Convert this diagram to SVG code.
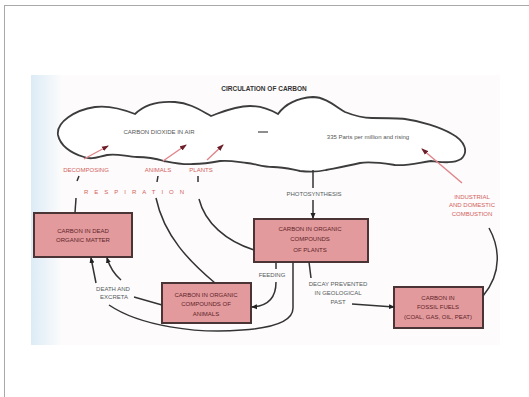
<svg xmlns="http://www.w3.org/2000/svg" width="529" height="397" viewBox="0 0 529 397">
<defs>
<linearGradient id="strip" x1="0" y1="0" x2="1" y2="0">
<stop offset="0" stop-color="#dcebf6"/>
<stop offset="1" stop-color="#fbfbfc"/>
</linearGradient>
<marker id="ah" markerWidth="6" markerHeight="6" refX="5" refY="3" orient="auto" markerUnits="userSpaceOnUse">
<path d="M0,0.5 L6,3 L0,5.5 Z" fill="#222"/>
</marker>
<marker id="ahr" markerWidth="7" markerHeight="6" refX="6" refY="3" orient="auto" markerUnits="userSpaceOnUse">
<path d="M0,0.5 L7,3 L0,5.5 Z" fill="#6a1f2a"/>
</marker>
</defs>
<style>
text{font-family:"Liberation Sans",Arial,sans-serif;}
.box{fill:#e39a9d;stroke:#4a3436;stroke-width:2;}
.bt{font-size:6px;fill:#5e2428;text-anchor:middle;}
.lr{font-size:6px;fill:#d2625c;text-anchor:middle;}
.lg{font-size:6px;fill:#555b5e;text-anchor:middle;}
.ln{fill:none;stroke:#333;stroke-width:1.5;}
.rd{fill:none;stroke:#e0848a;stroke-width:1.4;}
</style>
<rect x="4.5" y="5.5" width="540" height="400" fill="#ffffff" stroke="#a8a8a8" stroke-width="1"/>
<rect x="31" y="75" width="469" height="270" fill="#fdfbfb"/>
<rect x="31" y="75" width="30" height="270" fill="url(#strip)"/>

<g id="title">
<text x="264" y="91" font-size="6.5" font-weight="bold" fill="#333" text-anchor="middle">CIRCULATION OF CARBON</text>
</g>

<g id="cloud">
<path d="M58,135 C56,122 75,110 95,107 C110,105 125,110 135,114 C145,104 160,101 175,102 C190,103 200,110 211,116 C222,112 235,106 250,106 C262,106 271,110 278,114 C286,103 298,98 313,97 C325,97 335,106 345,112 C355,116 362,118 372,118 C385,118 398,118 405,119 C420,121 440,127 452,134 C465,141 469,152 461,159 C453,164 441,162 431,161 C417,163 408,166 395,165 C382,163 370,161 360,163 C347,166 336,168 326,170 C318,172 308,172 300,171 C290,169 284,167 273,167 C263,167 256,164 247,163 C238,162 230,160 220,161 C210,163 203,164 193,164 C183,165 174,163 164,161 C154,158 146,157 137,157 C127,157 117,153 107,155 C97,157 92,160 84,157 C70,153 60,145 58,135 Z" fill="#ffffff" stroke="#3c3c3c" stroke-width="1.8"/>
<text x="159" y="134" font-size="6" fill="#555" text-anchor="middle">CARBON DIOXIDE IN AIR</text>
<line x1="258" y1="132" x2="268" y2="132" stroke="#444" stroke-width="1.2"/>
<text x="368" y="139" font-size="6" fill="#555" text-anchor="middle">335 Parts per million and rising</text>
</g>

<g id="box-dead">
<rect class="box" x="34" y="213" width="98" height="44"/>
<text class="bt" x="83" y="233">CARBON IN DEAD</text>
<text class="bt" x="83" y="242">ORGANIC MATTER</text>
</g>

<g id="box-plants">
<rect class="box" x="254" y="219" width="114" height="43"/>
<text class="bt" x="310" y="231">CARBON IN ORGANIC</text>
<text class="bt" x="310" y="241">COMPOUNDS</text>
<text class="bt" x="310" y="252">OF PLANTS</text>
</g>

<g id="box-animals">
<rect class="box" x="162" y="283" width="89" height="40"/>
<text class="bt" x="206" y="297">CARBON IN ORGANIC</text>
<text class="bt" x="206" y="306">COMPOUNDS OF</text>
<text class="bt" x="206" y="316">ANIMALS</text>
</g>

<g id="box-fossil">
<rect class="box" x="394" y="287" width="89" height="41"/>
<text class="bt" x="438" y="300">CARBON IN</text>
<text class="bt" x="438" y="309">FOSSIL FUELS</text>
<text class="bt" x="438" y="319">(COAL, GAS, OIL, PEAT)</text>
</g>

<g id="labels">
<text class="lr" x="86" y="172">DECOMPOSING</text>
<text class="lr" x="158" y="172">ANIMALS</text>
<text class="lr" x="201" y="172">PLANTS</text>
<text class="lr" x="137" y="194" letter-spacing="6">RESPIRATION</text>
<text class="lr" x="472" y="199">INDUSTRIAL</text>
<text class="lr" x="472" y="207">AND DOMESTIC</text>
<text class="lr" x="472" y="216">COMBUSTION</text>
<text class="lg" x="314" y="196">PHOTOSYNTHESIS</text>
<text class="lg" x="272" y="277">FEEDING</text>
<text class="lg" x="338" y="286">DECAY PREVENTED</text>
<text class="lg" x="338" y="295">IN GEOLOGICAL</text>
<text class="lg" x="338" y="304">PAST</text>
<text class="lg" x="113" y="291">DEATH AND</text>
<text class="lg" x="114" y="299">EXCRETA</text>
</g>

<g id="connectors">
<line class="rd" x1="84" y1="159" x2="108" y2="146" marker-end="url(#ahr)"/>
<line class="rd" x1="163" y1="161" x2="186" y2="145" marker-end="url(#ahr)"/>
<line class="rd" x1="207" y1="160" x2="223" y2="145" marker-end="url(#ahr)"/>
<line class="rd" x1="462" y1="183" x2="422" y2="149" marker-end="url(#ahr)"/>
<line class="ln" x1="79" y1="176" x2="77" y2="181"/>
<line class="ln" x1="158" y1="176" x2="157" y2="182"/>
<line class="ln" x1="198" y1="176" x2="198" y2="182"/>
<path class="ln" d="M76,198 L75,213"/>
<path class="ln" d="M215,283 C190,262 164,236 156,198"/>
<path class="ln" d="M254,250 C226,241 205,223 199,199"/>
<line class="ln" x1="313" y1="170" x2="313" y2="188"/>
<line class="ln" x1="313" y1="200" x2="313" y2="218" marker-end="url(#ah)"/>
<line class="ln" x1="276" y1="262" x2="276" y2="269"/>
<path class="ln" d="M276,282 C276,296 270,306 252,307" marker-end="url(#ah)"/>
<path class="ln" d="M293,262 L293,308 C293,322 272,328 242,330 C197,334 140,326 109,305"/>
<line class="ln" x1="309" y1="262" x2="311" y2="278"/>
<line class="ln" x1="352" y1="304" x2="394" y2="307" marker-end="url(#ah)"/>
<path class="ln" d="M489,228 C499,246 503,272 483,296"/>
<line class="ln" x1="162" y1="305" x2="134" y2="297"/>
<line class="ln" x1="96" y1="283" x2="91" y2="258" marker-end="url(#ah)"/>
<path class="ln" d="M121,280 C114,274 110,268 107,258" marker-end="url(#ah)"/>
</g>
</svg>
